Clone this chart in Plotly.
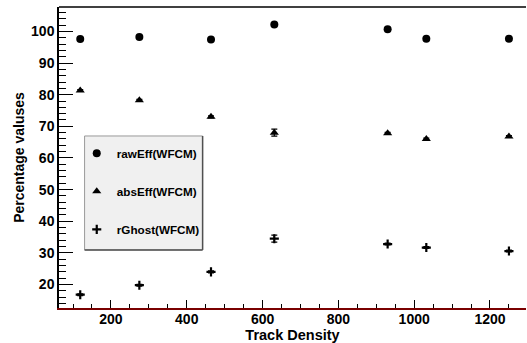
import plotly.graph_objects as go

track_density = [119, 275, 464, 631, 930, 1032, 1250]
raw_eff = [97.6, 98.2, 97.4, 102.2, 100.7, 97.7, 97.7]
abs_eff = [81.3, 78.2, 73.0, 68.0, 67.8, 66.0, 66.8]
r_ghost = [16.8, 19.8, 24.0, 34.5, 32.8, 31.7, 30.6]
abs_err = [0.3, 0.3, 0.3, 1.1, 0.3, 0.3, 0.3]
ghost_err = [0.3, 0.3, 0.3, 1.1, 0.3, 0.3, 0.3]
names = ["rawEff(WFCM)", "absEff(WFCM)", "rGhost(WFCM)"]

FONT = "Liberation Sans"

fig = go.Figure()
fig.add_trace(go.Scatter(x=track_density, y=raw_eff, mode="markers", name=names[0],
                         legendgroup="a",
                         marker=dict(symbol="circle", size=8, color="black")))
fig.add_trace(go.Scatter(x=track_density, y=abs_eff, mode="markers", name=names[1],
                         legendgroup="b",
                         error_y=dict(type="data", array=abs_err, color="black", thickness=1.2, width=3),
                         marker=dict(symbol="triangle-up", size=8, color="black")))
fig.add_trace(go.Scatter(x=track_density, y=r_ghost, mode="markers", name=names[2],
                         legendgroup="c",
                         error_y=dict(type="data", array=ghost_err, color="black", thickness=1.2, width=3),
                         marker=dict(symbol="cross-thin", size=6.5, color="black",
                                     line=dict(width=2.2, color="black"))))

# legend box (ROOT-style with shadow)
fig.add_shape(type="rect", xref="paper", yref="paper", x0=0.0548, x1=0.3075, y0=0.193, y1=0.5715,
              fillcolor="#f0f0f0", line=dict(color="#9a9a9a", width=1), layer="below")
fig.add_shape(type="line", xref="paper", yref="paper", x0=0.3075, x1=0.3075, y0=0.193, y1=0.5715,
              line=dict(color="#505050", width=1.5))
fig.add_shape(type="line", xref="paper", yref="paper", x0=0.0548, x1=0.3075, y0=0.193, y1=0.193,
              line=dict(color="#505050", width=1.5))
# top frame line
fig.add_shape(type="line", xref="paper", yref="paper", x0=0, x1=1, y0=1, y1=1,
              line=dict(color="black", width=1.5))

fig.update_layout(
    width=527, height=343,
    margin=dict(l=59, r=1, t=7, b=35),
    paper_bgcolor="white", plot_bgcolor="white",
    font=dict(family=FONT, color="black"),
    showlegend=True,
    legend=dict(x=0.038, y=0.562, xanchor="left", yanchor="top",
                bgcolor="rgba(0,0,0,0)", borderwidth=0,
                font=dict(family=FONT, size=11.7, weight="bold", color="black"),
                tracegroupgap=19, itemwidth=30),
    xaxis=dict(range=[63, 1295], showgrid=False, zeroline=False,
               showline=True, linecolor="#7a0000", linewidth=1.5,
               ticks="inside", ticklen=8, tickwidth=1, tickcolor="black",
               dtick=200, tick0=0, ticklabelstandoff=-3,
               minor=dict(ticks="inside", ticklen=4, dtick=50, tick0=0, tickcolor="black"),
               tickfont=dict(family=FONT, size=14, weight="bold"),
               title=dict(text="Track Density", standoff=0,
                          font=dict(family=FONT, size=14.5, weight="bold")),
               automargin=False),
    yaxis=dict(range=[12.6, 107.7], showgrid=False, zeroline=False,
               showline=True, linecolor="black", linewidth=1.5,
               ticks="inside", ticklen=14, tickwidth=1, tickcolor="black",
               dtick=10, tick0=0,
               minor=dict(ticks="inside", ticklen=7, dtick=2, tick0=0, tickcolor="black"),
               tickfont=dict(family=FONT, size=14, weight="bold"),
               title=dict(text="Percentage valuses", standoff=3,
                          font=dict(family=FONT, size=14, weight="bold")),
               automargin=False),
)

fig.write_html("out.html", config={"displayModeBar": False},
               post_script="document.body.style.margin='0';document.body.style.padding='0';")
